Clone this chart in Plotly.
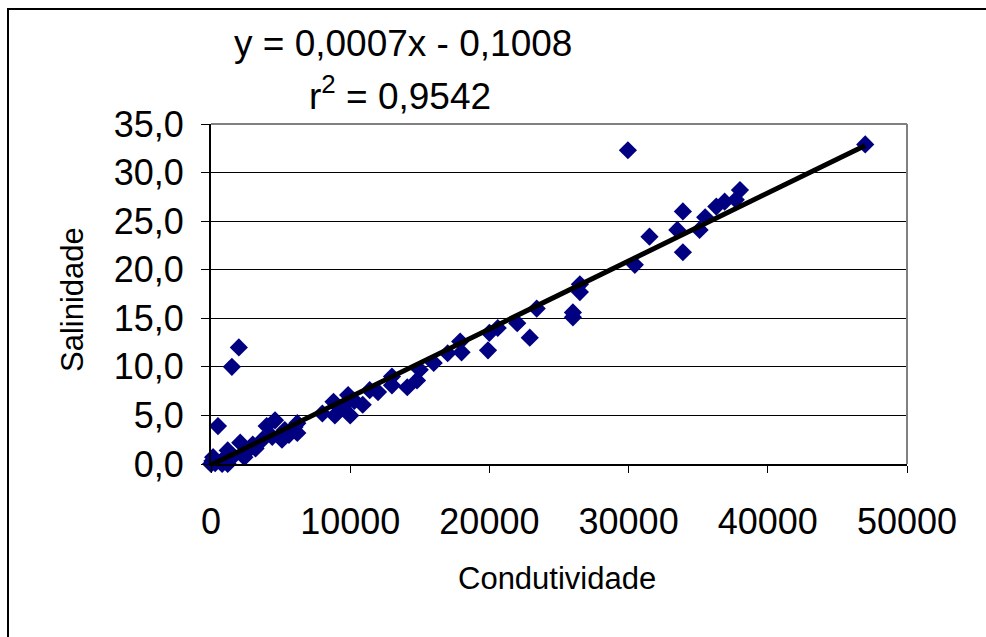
import plotly.graph_objects as go

# Data
condutividade = [0, 100, 150, 300, 500, 700, 800, 900, 1200, 1200, 1500, 1600, 2000, 2100,
                 2400, 2600, 3000, 3200, 3700, 4000, 4400, 4600, 5100, 5300, 5600, 6000,
                 6200, 6200, 8000, 8800, 8900, 9500, 9850, 10000, 10300, 10900, 11400,
                 12000, 13000, 13000, 14100, 14800, 15000, 16000, 17000, 17900, 18000,
                 19900, 20000, 20600, 22000, 22900, 23400, 26000, 26000, 26500, 26500,
                 29950, 30450, 31500, 33500, 33900, 33900, 35100, 35500, 36300, 36900,
                 37700, 38000, 47000]
salinidade = [0.0, 0.3, 0.7, 0.1, 3.9, 0.2, 0.0, 0.5, 0.0, 1.4, 10.0, 0.8, 12.0, 2.2,
              0.7, 1.3, 2.0, 1.6, 2.5, 3.9, 2.8, 4.5, 2.5, 3.5, 3.0, 3.8,
              3.2, 4.2, 5.2, 6.4, 5.0, 5.9, 7.1, 5.0, 6.5, 6.1, 7.6,
              7.4, 9.0, 8.1, 7.9, 8.6, 9.7, 10.4, 11.4, 12.6, 11.5,
              11.7, 13.5, 14.0, 14.5, 13.0, 16.0, 15.6, 15.1, 18.5, 17.7,
              32.3, 20.5, 23.4, 24.1, 26.0, 21.8, 24.1, 25.4, 26.5, 27.0,
              27.2, 28.2, 32.9]

slope = 0.0007
intercept = -0.1008
r2 = 0.9542

x_ticks = [0, 10000, 20000, 30000, 40000, 50000]
x_ticktext = ["0", "10000", "20000", "30000", "40000", "50000"]
y_ticks = [0, 5, 10, 15, 20, 25, 30, 35]
y_ticktext = ["0,0", "5,0", "10,0", "15,0", "20,0", "25,0", "30,0", "35,0"]

FONT = "Liberation Sans, Arial, sans-serif"

trend_x = [min(condutividade), max(condutividade)]
trend_y = [slope * v + intercept for v in trend_x]

fig = go.Figure()
fig.add_trace(go.Scatter(
    x=condutividade, y=salinidade, mode="markers",
    marker=dict(symbol="diamond", size=14, color="#000080", line=dict(width=0)),
    cliponaxis=False, showlegend=False))
fig.add_trace(go.Scatter(
    x=trend_x, y=trend_y, mode="lines",
    line=dict(color="black", width=5),
    cliponaxis=False, showlegend=False))

fig.update_layout(
    width=986, height=637,
    margin=dict(l=211, r=79, t=124, b=173),
    paper_bgcolor="white", plot_bgcolor="white",
    font=dict(family=FONT, color="black"),
    xaxis=dict(range=[0, 50000], tickvals=x_ticks, ticktext=x_ticktext,
               showgrid=False, zeroline=False,
               showline=True, linecolor="black", linewidth=2,
               ticks="outside", ticklen=7, tickwidth=1, tickcolor="black",
               tickfont=dict(size=36, family=FONT, color="black"),
               ticklabelstandoff=18),
    yaxis=dict(range=[0, 35], tickvals=y_ticks, ticktext=y_ticktext,
               showgrid=True, gridcolor="black", gridwidth=1,
               zeroline=False,
               showline=True, linecolor="black", linewidth=2,
               ticks="outside", ticklen=8, tickwidth=1, tickcolor="black",
               tickfont=dict(size=36, family=FONT, color="black"),
               ticklabelstandoff=10),
    shapes=[
        dict(type="line", xref="paper", yref="paper", x0=0, x1=1, y0=1, y1=1,
             line=dict(color="#808080", width=2)),
        dict(type="line", xref="paper", yref="paper", x0=1, x1=1, y0=0, y1=1,
             line=dict(color="#808080", width=2)),
        dict(type="rect", xref="paper", yref="paper",
             x0=(8 - 211) / 696, x1=(992 - 211) / 696,
             y0=(464 - 642) / 340, y1=(464 - 9) / 340,
             line=dict(color="black", width=2), layer="below"),
    ],
    annotations=[
        dict(text="y = 0,0007x - 0,1008", xref="paper", yref="paper",
             x=(403 - 211) / 696, y=(464 - 44) / 340, showarrow=False,
             xanchor="center", yanchor="middle",
             font=dict(size=37, family=FONT, color="black")),
        dict(text="r<sup>2</sup> = 0,9542", xref="paper", yref="paper",
             x=(400 - 211) / 696, y=(464 - 93) / 340, showarrow=False,
             xanchor="center", yanchor="middle",
             font=dict(size=37, family=FONT, color="black")),
        dict(text="Condutividade", xref="paper", yref="paper",
             x=(557 - 211) / 696, y=(464 - 578) / 340, showarrow=False,
             xanchor="center", yanchor="middle",
             font=dict(size=31, family=FONT, color="black")),
        dict(text="Salinidade", xref="paper", yref="paper",
             x=(72 - 211) / 696, y=(464 - 300) / 340, showarrow=False,
             textangle=-90, xanchor="center", yanchor="middle",
             font=dict(size=31, family=FONT, color="black")),
    ],
)

fig.write_html("out.html")
